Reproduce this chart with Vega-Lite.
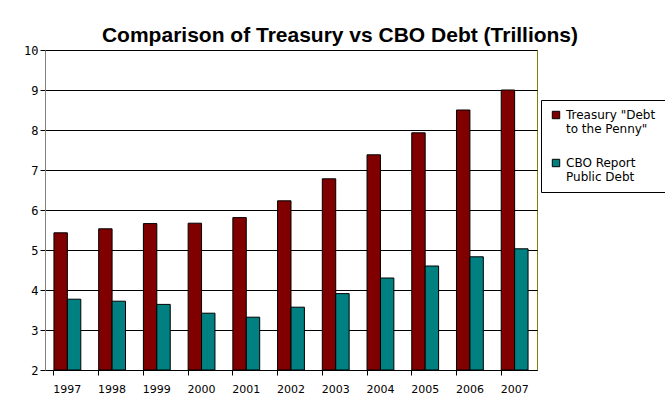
{
  "$schema": "https://vega.github.io/schema/vega-lite/v6.json",
  "autosize": {"type": "none"},
  "width": 492,
  "height": 320,
  "padding": {"left": 45, "top": 50, "right": 128, "bottom": 36},
  "background": "white",
  "title": {
    "text": "Comparison of Treasury vs CBO Debt (Trillions)",
    "font": "Liberation Sans",
    "fontSize": 21,
    "fontWeight": "bold",
    "color": "black",
    "anchor": "middle",
    "dx": 49,
    "offset": -2
  },
  "data": {
    "values": [
      {"year": "1997", "series": "Treasury \"Debt|to the Penny\"", "value": 5.43},
      {"year": "1997", "series": "CBO Report|Public Debt", "value": 3.77},
      {"year": "1998", "series": "Treasury \"Debt|to the Penny\"", "value": 5.53},
      {"year": "1998", "series": "CBO Report|Public Debt", "value": 3.72},
      {"year": "1999", "series": "Treasury \"Debt|to the Penny\"", "value": 5.66},
      {"year": "1999", "series": "CBO Report|Public Debt", "value": 3.64},
      {"year": "2000", "series": "Treasury \"Debt|to the Penny\"", "value": 5.67},
      {"year": "2000", "series": "CBO Report|Public Debt", "value": 3.42},
      {"year": "2001", "series": "Treasury \"Debt|to the Penny\"", "value": 5.81},
      {"year": "2001", "series": "CBO Report|Public Debt", "value": 3.32},
      {"year": "2002", "series": "Treasury \"Debt|to the Penny\"", "value": 6.23},
      {"year": "2002", "series": "CBO Report|Public Debt", "value": 3.57},
      {"year": "2003", "series": "Treasury \"Debt|to the Penny\"", "value": 6.78},
      {"year": "2003", "series": "CBO Report|Public Debt", "value": 3.91},
      {"year": "2004", "series": "Treasury \"Debt|to the Penny\"", "value": 7.38},
      {"year": "2004", "series": "CBO Report|Public Debt", "value": 4.3},
      {"year": "2005", "series": "Treasury \"Debt|to the Penny\"", "value": 7.93},
      {"year": "2005", "series": "CBO Report|Public Debt", "value": 4.6},
      {"year": "2006", "series": "Treasury \"Debt|to the Penny\"", "value": 8.5},
      {"year": "2006", "series": "CBO Report|Public Debt", "value": 4.83},
      {"year": "2007", "series": "Treasury \"Debt|to the Penny\"", "value": 9.0},
      {"year": "2007", "series": "CBO Report|Public Debt", "value": 5.03}
    ]
  },
  "mark": {"type": "bar", "stroke": "black", "strokeWidth": 1, "clip": true},
  "encoding": {
    "x": {
      "field": "year",
      "type": "nominal",
      "title": null,
      "scale": {"paddingInner": 0.4, "paddingOuter": 0.2},
      "axis": {
        "labelAngle": 0,
        "labelFont": "DejaVu Sans",
        "labelFontSize": 11,
        "labelColor": "black",
        "labelPadding": 8,
        "bandPosition": 0,
        "tickColor": "black",
        "tickSize": 5,
        "domainColor": "black",
        "grid": false
      }
    },
    "xOffset": {"field": "series", "type": "nominal", "sort": ["Treasury \"Debt|to the Penny\"", "CBO Report|Public Debt"]},
    "y": {
      "field": "value",
      "type": "quantitative",
      "title": null,
      "scale": {"domain": [2, 10], "nice": false, "zero": false},
      "axis": {
        "values": [2, 3, 4, 5, 6, 7, 8, 9, 10],
        "labelFont": "DejaVu Sans Mono",
        "labelFontSize": 12,
        "labelColor": "black",
        "tickColor": "black",
        "tickSize": 5,
        "domainColor": "#808080",
        "gridColor": "black",
        "gridWidth": 1
      }
    },
    "y2": {"datum": 2},
    "color": {
      "field": "series",
      "type": "nominal",
      "sort": ["Treasury \"Debt|to the Penny\"", "CBO Report|Public Debt"],
      "scale": {"range": ["#800000", "#008080"]},
      "legend": {
        "title": null,
        "orient": "none",
        "legendX": 496,
        "legendY": 50,
        "strokeColor": "black",
        "padding": 9,
        "symbolType": "square",
        "symbolSize": 55,
        "symbolStrokeColor": "black",
        "symbolStrokeWidth": 1,
        "labelFont": "DejaVu Sans",
        "labelFontSize": 12,
        "labelColor": "black",
        "labelExpr": "split(datum.label, '|')",
        "labelLimit": 200,
        "rowPadding": 22,
        "fillColor": "white"
      }
    }
  },
  "config": {
    "view": {"stroke": "#808000", "strokeWidth": 1}
  }
}
